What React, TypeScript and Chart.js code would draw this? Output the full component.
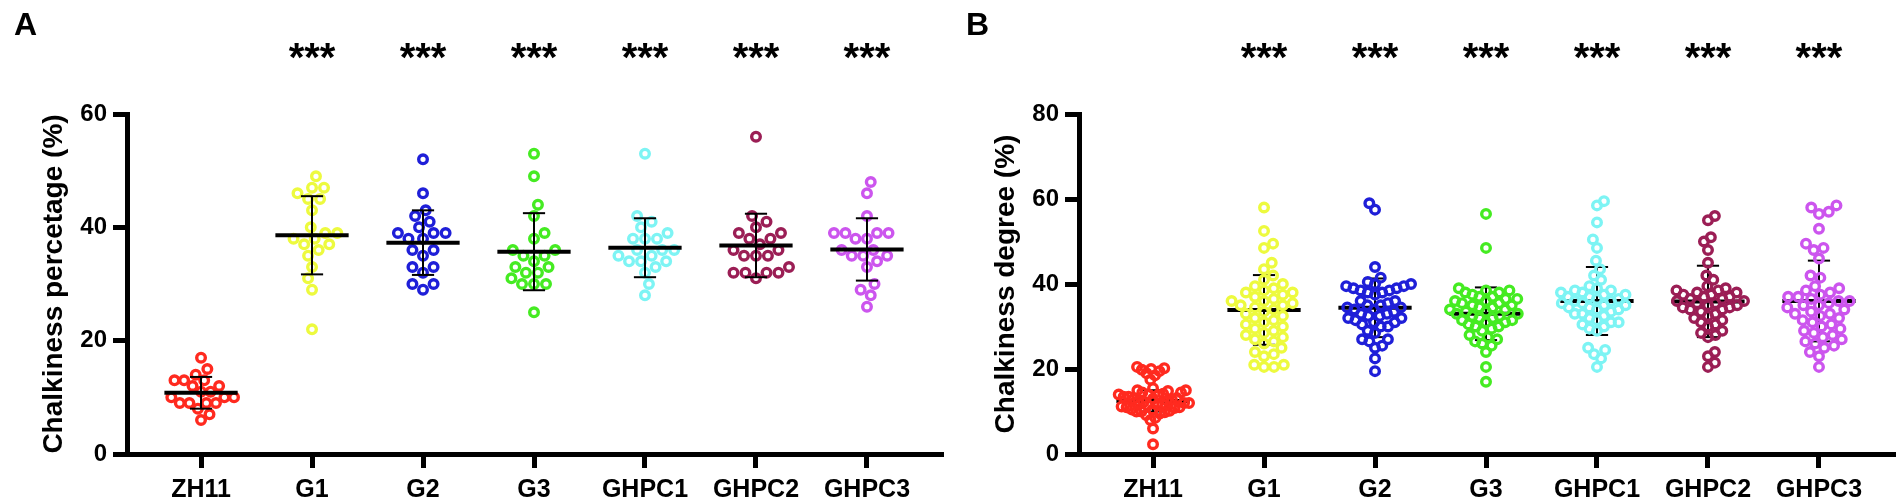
import { useEffect, useRef } from 'react';
import { Chart, registerables } from 'chart.js';

Chart.register(...registerables);

const FONT = '"Liberation Sans", Arial, sans-serif';

const groups = ['ZH11', 'G1', 'G2', 'G3', 'GHPC1', 'GHPC2', 'GHPC3'];
const groupColors = ['#FF2A1F', '#EDFA3E', '#1F1FD8', '#45EB22', '#7DF4F4', '#9B1E55', '#CC55EE'];
const sigLabels = ['', '***', '***', '***', '***', '***', '***'];

// Panel A: chalkiness percentage (%)
const pctZH11 = [17, 15, 14, 13, 13, 13, 12, 12, 11, 11, 10, 10, 10, 9, 9, 9, 9, 8, 7, 6];
const pctG1 = [49, 47, 47, 46, 45, 45, 43, 40, 39, 39, 38, 38, 37, 37, 36, 35, 33, 31, 29, 22];
const pctG2 = [52, 46, 43, 42, 41, 40, 39, 39, 39, 38, 38, 36, 36, 35, 33, 33, 32, 30, 30, 29];
const pctG3 = [53, 49, 44, 42, 39, 38, 36, 36, 35, 35, 34, 33, 33, 32, 32, 31, 30, 30, 30, 25];
const pctGHPC1 = [53, 42, 41, 40, 39, 38, 38, 38, 36, 36, 36, 35, 35, 34, 34, 34, 33, 32, 30, 28];
const pctGHPC2 = [56, 42, 41, 40, 39, 39, 38, 38, 37, 36, 36, 35, 35, 35, 33, 32, 32, 32, 32, 31];
const pctGHPC3 = [48, 46, 42, 39, 39, 39, 39, 38, 38, 36, 36, 35, 35, 35, 34, 33, 30, 29, 28, 26];
const pctMeans = [10.8, 38.6, 37.3, 35.7, 36.4, 36.8, 36.1];
const pctSDs = [2.8, 6.9, 5.7, 6.8, 5.2, 5.6, 5.5];

// Panel B: chalkiness degree (%)
const degZH11 = [20.5, 20.2, 20, 19.8, 19.5, 19, 18.5, 17.5, 15.5, 15, 15, 14.8, 14.5, 14.5, 14.2, 14, 14, 13.8, 13.5, 13.5, 13.2, 13, 13, 12.8, 12.5, 12.5, 12.2, 12, 12, 11.8, 11.5, 11.5, 11.2, 11, 11, 10.8, 10.5, 10.5, 10.2, 10, 10, 9.8, 9.5, 9.2, 8.5, 8, 6, 2.3];
const degG1 = [58, 52.5, 49.5, 48.5, 45, 43.5, 42, 41, 40, 39.5, 39, 38.5, 38, 38, 37.5, 37, 36.5, 36, 36, 35.5, 35, 35, 34.5, 34, 33.5, 33, 32.5, 32, 31.5, 31, 30.5, 30, 29.5, 29, 28.5, 28, 27.5, 27, 26.5, 26, 25, 24, 23.5, 23, 21, 21, 20.5, 20.5];
const degG2 = [59, 57.5, 44, 41.5, 40.5, 40, 40, 39.5, 39.5, 39, 39, 38.5, 38.5, 38, 38, 37.5, 36, 36, 35.5, 35, 35, 34.5, 34.5, 34, 34, 33.5, 33, 33, 32.5, 32.5, 32, 32, 31.5, 31, 31, 30.5, 30, 30, 29, 28.5, 27, 27, 26.5, 25.5, 25, 22.5, 19.5];
const degG3 = [56.5, 48.5, 39, 38.5, 38.5, 38, 38, 37.5, 37, 37, 36.5, 36.5, 36, 36, 35.5, 35.5, 35, 35, 34.5, 34.5, 34, 34, 33.5, 33.5, 33, 33, 32.5, 32.5, 32, 32, 31.5, 31.5, 31, 31, 30.5, 30, 30, 29.5, 29, 28, 27.5, 27, 26.5, 26, 25.5, 24, 20.5, 17];
const degGHPC1 = [59.5, 58.5, 54.5, 50.5, 48.5, 45.5, 43.5, 42, 41, 39.5, 39, 38.5, 38.5, 38, 38, 37.5, 37.5, 37, 37, 36.5, 36.5, 36, 36, 35.5, 35.5, 35, 35, 34.5, 34.5, 34, 34, 33.5, 33, 33, 32.5, 32, 31.5, 31, 31, 30.5, 30, 29.5, 29, 25, 24.5, 23.5, 22.5, 20.5];
const degGHPC2 = [56, 55, 51, 50, 48, 45, 42, 41, 39.5, 39, 38.5, 38.5, 38, 38, 37.5, 37.5, 37, 37, 36.5, 36.5, 36, 36, 35.5, 35.5, 35, 35, 34.5, 34.5, 34, 34, 33.5, 33, 32.5, 32, 31.5, 31, 30.5, 30, 29, 28.5, 28, 27.5, 24, 23, 21.5, 20.5];
const degGHPC3 = [58.5, 58, 57, 56.5, 53, 49.5, 48.5, 48, 46, 42, 41.5, 39.5, 39, 38.5, 38, 37.5, 37, 37, 36.5, 36, 36, 35.5, 35, 35, 34.5, 34, 33.5, 33, 33, 32.5, 32, 31.5, 31, 30.5, 30, 29.5, 29, 28.5, 28, 27.5, 27, 26.5, 26, 25.5, 25, 24, 23, 20.5];
const degMeans = [12.5, 33.9, 34.4, 33.0, 36.0, 35.9, 36.0];
const degSDs = [2.5, 8.2, 6.9, 6.2, 8.0, 8.4, 9.5];

// layout of one panel canvas
const CANVAS_W = 952;
const CANVAS_H = 504;
const AREA_LEFT = 127;
const AREA_RIGHT = 943;
const AREA_TOP = 114;
const AREA_BOTTOM = 454;
const X_MIN = -0.667;
const X_MAX = 6.685;

// simple beeswarm: returns horizontal offsets in pixels
function swarmOffsets(values: number[], pxPerY: number, minDist: number, maxHalf: number): number[] {
  const order = values.map((_, i) => i).sort((a, b) => values[a] - values[b]);
  const placed: { x: number; y: number }[] = [];
  const out = new Array(values.length).fill(0);
  const d2 = minDist * minDist;
  let flip = 1;
  for (const i of order) {
    const y = values[i] * pxPerY;
    const near = placed.filter(p => Math.abs(p.y - y) < minDist);
    const cands = [0];
    near.forEach(p => {
      const dx = Math.sqrt(d2 - (p.y - y) ** 2);
      cands.push(p.x + dx, p.x - dx);
    });
    cands.sort((a, b) => Math.abs(a) - Math.abs(b) || (a - b) * flip);
    const x = cands.find(c => near.every(p => (p.x - c) ** 2 + (p.y - y) ** 2 >= d2 - 0.01)) ?? 0;
    flip = -flip;
    placed.push({ x, y });
    out[i] = x;
  }
  const m = Math.max(...out.map(Math.abs));
  const k = m > maxHalf ? maxHalf / m : 1;
  return out.map(o => o * k);
}

interface PanelProps {
  letter: string;
  yTitle: string;
  yMax: number;
  series: number[][];
  means: number[];
  sds: number[];
  swarmDist: number;
  swarmHalf: number;
  barsOnTop: boolean;
}

function Panel({ letter, yTitle, yMax, series, means, sds, swarmDist, swarmHalf, barsOnTop }: PanelProps) {
  const canvasRef = useRef<HTMLCanvasElement | null>(null);

  useEffect(() => {
    if (!canvasRef.current) return;
    const pxPerX = (AREA_RIGHT - AREA_LEFT) / (X_MAX - X_MIN);
    const pxPerY = (AREA_BOTTOM - AREA_TOP) / yMax;
    const barOrder = barsOnTop ? 0 : 2;

    const datasets: any[] = [];
    series.forEach((vals, i) => {
      const offs = swarmOffsets(vals, pxPerY, swarmDist, swarmHalf);
      datasets.push({
        data: vals.map((v, k) => ({ x: i + offs[k] / pxPerX, y: v })),
        borderColor: groupColors[i],
        pointBorderColor: groupColors[i],
        backgroundColor: 'rgba(0,0,0,0)',
        pointBackgroundColor: 'rgba(0,0,0,0)',
        pointRadius: 4.3,
        pointHoverRadius: 4.3,
        borderWidth: 3.4,
        pointBorderWidth: 3.4,
        order: 1
      });
    });

    const segment = (pts: { x: number; y: number }[], width: number) => ({
      data: pts,
      showLine: true,
      borderColor: '#000',
      borderWidth: width,
      borderCapStyle: 'butt',
      pointRadius: 0,
      pointHoverRadius: 0,
      fill: false,
      order: barOrder
    });

    means.forEach((m, i) => {
      const hi = m + sds[i];
      const lo = m - sds[i];
      datasets.push(segment([{ x: i - 0.33, y: m }, { x: i + 0.33, y: m }], 4));
      datasets.push(segment([{ x: i, y: lo }, { x: i, y: hi }], 2));
      datasets.push(segment([{ x: i - 0.1, y: hi }, { x: i + 0.1, y: hi }], 2));
      datasets.push(segment([{ x: i - 0.1, y: lo }, { x: i + 0.1, y: lo }], 2));
    });

    const annotate = {
      id: 'annotate',
      afterDraw(chart: Chart) {
        const { ctx } = chart;
        const x = chart.scales.x;
        ctx.save();
        ctx.fillStyle = '#000';
        ctx.textBaseline = 'alphabetic';
        ctx.textAlign = 'left';
        ctx.font = `bold 32px ${FONT}`;
        ctx.fillText(letter, 14, 35);
        ctx.textAlign = 'center';
        ctx.font = `bold 40px ${FONT}`;
        sigLabels.forEach((s, i) => {
          if (s) ctx.fillText(s, x.getPixelForValue(i), 71);
        });
        ctx.restore();
      }
    };

    const chart = new Chart(canvasRef.current, {
      type: 'scatter',
      data: { datasets },
      plugins: [annotate],
      options: {
        animation: false,
        responsive: false,
        maintainAspectRatio: false,
        events: [],
        layout: { padding: { top: AREA_TOP, right: CANVAS_W - AREA_RIGHT, left: 0, bottom: 0 } },
        plugins: { legend: { display: false }, tooltip: { enabled: false } },
        scales: {
          x: {
            type: 'linear',
            min: X_MIN,
            max: X_MAX,
            afterBuildTicks: (scale: any) => {
              scale.ticks = groups.map((_, i) => ({ value: i }));
            },
            afterFit: (scale: any) => {
              scale.height = CANVAS_H - AREA_BOTTOM;
            },
            ticks: {
              callback: (v: any) => groups[v] ?? '',
              autoSkip: false,
              maxRotation: 0,
              color: '#000',
              padding: 7,
              font: { family: FONT, size: 25, weight: 'bold' }
            },
            grid: { drawOnChartArea: false, tickLength: 14, tickWidth: 5, tickColor: '#000' },
            border: { display: true, color: '#000', width: 5 }
          },
          y: {
            type: 'linear',
            min: 0,
            max: yMax,
            afterFit: (scale: any) => {
              scale.width = AREA_LEFT;
            },
            ticks: {
              stepSize: 20,
              color: '#000',
              padding: 6,
              font: { family: FONT, size: 24, weight: 'bold' }
            },
            title: {
              display: true,
              text: yTitle,
              color: '#000',
              padding: { top: 37, bottom: 0 },
              font: { family: FONT, size: 28, weight: 'bold' }
            },
            grid: { drawOnChartArea: false, tickLength: 14, tickWidth: 5, tickColor: '#000' },
            border: { display: true, color: '#000', width: 5 }
          }
        }
      } as any
    });

    return () => {
      chart.destroy();
    };
  }, [letter, yTitle, yMax, series, means, sds, swarmDist, swarmHalf, barsOnTop]);

  return (
    <div style={{ width: CANVAS_W, height: CANVAS_H }}>
      <canvas ref={canvasRef} width={CANVAS_W} height={CANVAS_H} style={{ display: 'block' }} />
    </div>
  );
}

const pctSeries = [pctZH11, pctG1, pctG2, pctG3, pctGHPC1, pctGHPC2, pctGHPC3];
const degSeries = [degZH11, degG1, degG2, degG3, degGHPC1, degGHPC2, degGHPC3];

export default function App() {
  return (
    <div style={{ position: 'fixed', left: 0, top: 0, width: 1904, height: 504, background: '#fff', display: 'flex' }}>
      <Panel
        letter="A"
        yTitle="Chalkiness percetage (%)"
        yMax={60}
        series={pctSeries}
        means={pctMeans}
        sds={pctSDs}
        swarmDist={12}
        swarmHalf={33}
        barsOnTop={true}
      />
      <Panel
        letter="B"
        yTitle="Chalkiness degree (%)"
        yMax={80}
        series={degSeries}
        means={degMeans}
        sds={degSDs}
        swarmDist={10}
        swarmHalf={36}
        barsOnTop={false}
      />
    </div>
  );
}
